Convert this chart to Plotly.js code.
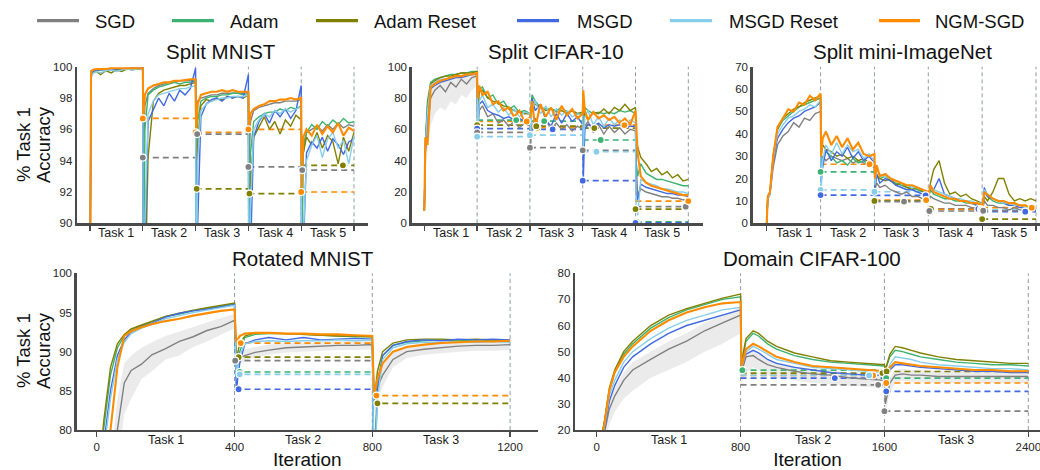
<!DOCTYPE html>
<html>
<head>
<meta charset="utf-8">
<script src="https://cdn.plot.ly/plotly-3.0.1.min.js"></script>
<style>html,body{margin:0;padding:0;background:#fff}#chart{width:1040px;height:470px}</style>
</head>
<body>
<div id="chart"></div>
<script>
// ---------------- DATA ----------------
const methods = ['SGD', 'Adam', 'Adam Reset', 'MSGD', 'MSGD Reset', 'NGM-SGD'];

// Top row: x in "task progress" units (task k spans k-1 .. k)
const taskX = [0, 0.02, 0.06, 0.12, 0.2, 0.3, 0.4, 0.5, 0.6, 0.7, 0.8, 0.9, 1.0,
  1.01, 1.04, 1.1, 1.2, 1.3, 1.4, 1.5, 1.6, 1.7, 1.8, 1.9, 2.0,
  2.01, 2.04, 2.1, 2.2, 2.3, 2.4, 2.5, 2.6, 2.7, 2.8, 2.9, 3.0,
  3.01, 3.04, 3.1, 3.2, 3.3, 3.4, 3.5, 3.6, 3.7, 3.8, 3.9, 4.0,
  4.01, 4.04, 4.1, 4.2, 4.3, 4.4, 4.5, 4.6, 4.7, 4.8, 4.9, 5.0];
const taskEdges5 = [0, 1, 2, 3, 4, 5];
const taskLabels5 = ['Task 1', 'Task 2', 'Task 3', 'Task 4', 'Task 5'];

// Split MNIST
const smnSGD = [85, 99.6, 99.75, 99.8, 99.8, 99.85, 99.85, 99.85, 99.85, 99.9, 99.9, 99.9, 99.9,
  94.2, 97.5, 98.3, 98.6, 98.8, 98.9, 99.0, 99.0, 99.1, 99.1, 99.1, 99.1,
  95.7, 97.8, 98.0, 98.1, 98.2, 98.2, 98.3, 98.3, 98.3, 98.3, 98.3, 98.4,
  93.6, 96.5, 97.2, 97.4, 97.5, 97.6, 97.7, 97.7, 97.8, 97.8, 97.8, 97.9,
  93.4, 95.0, 95.8, 96.0, 96.2, 95.9, 96.3, 96.0, 96.4, 96.1, 96.3, 96.2];
const smnAdam = [85, 99.5, 99.7, 99.75, 99.8, 99.8, 99.8, 99.85, 99.8, 99.85, 99.85, 99.85, 99.9,
  80, 96, 98.2, 98.5, 98.7, 98.8, 98.9, 99.0, 98.9, 99.0, 99.0, 99.1,
  85, 96.5, 97.8, 98.0, 98.1, 98.1, 98.2, 98.2, 98.3, 98.3, 98.2, 98.3,
  84, 94.5, 96.5, 96.8, 97.0, 97.1, 97.1, 97.3, 97.2, 97.4, 97.3, 97.5,
  86, 94.5, 95.8, 96.3, 96.0, 96.5, 96.2, 96.6, 96.3, 96.7, 96.4, 96.5];
const smnAdamReset = [85, 99.4, 99.6, 99.7, 99.5, 99.75, 99.6, 99.8, 99.7, 99.85, 99.8, 99.85, 99.85,
  80, 85, 94.2, 97.8, 98.3, 98.5, 98.6, 98.7, 98.8, 98.8, 98.9, 99.0,
  92.2, 95, 97.5, 97.9, 97.8, 98.0, 97.9, 98.1, 98.0, 98.1, 98.0, 98.2,
  91.9, 92.5, 95.5, 96.2, 96.8, 96.0, 96.5, 95.7, 96.6, 96.2, 96.9, 96.6,
  93.7, 94.5, 95.5, 95.0, 95.8, 94.8, 95.6, 95.2, 93.8, 95.5, 94.6, 95.8];
const smnMSGD = [85, 99.5, 99.7, 99.8, 99.8, 99.85, 99.8, 99.85, 99.85, 99.85, 99.9, 99.9, 99.9,
  80, 88, 96.5, 97.2, 98.0, 97.5, 98.3, 97.8, 98.5, 98.2, 98.6, 99.9,
  82, 90, 96.8, 97.6, 97.9, 98.0, 97.8, 98.1, 98.0, 98.1, 98.0, 99.5,
  80, 88, 95.5, 96.5, 97.0, 96.4, 97.2, 96.8, 97.3, 96.7, 97.2, 98.8,
  82, 88, 94.5, 95.2, 94.8, 95.5, 94.6, 95.4, 95.0, 94.4, 95.2, 95.4];
const smnMSGDReset = [85, 99.3, 99.6, 99.7, 99.6, 99.75, 99.8, 99.7, 99.8, 99.85, 99.8, 99.85, 99.85,
  80, 90, 97, 97.8, 98.2, 98.3, 98.4, 98.5, 98.6, 98.6, 98.7, 98.8,
  84, 94, 97.2, 97.6, 97.8, 97.9, 98.0, 98.0, 98.1, 98.1, 98.1, 98.2,
  82, 91, 96.0, 96.6, 97.0, 96.8, 97.2, 97.0, 97.3, 97.1, 97.3, 97.4,
  83, 89, 94.0, 95.0, 95.6, 94.2, 95.4, 95.8, 94.8, 95.3, 93.8, 95.6];
const smnNGM = [85, 99.7, 99.8, 99.85, 99.85, 99.85, 99.9, 99.9, 99.9, 99.9, 99.9, 99.9, 99.9,
  96.7, 98.2, 98.6, 98.8, 98.9, 99.0, 99.0, 99.1, 99.1, 99.15, 99.2, 99.2,
  95.8, 97.6, 98.2, 98.3, 98.4, 98.4, 98.5, 98.4, 98.5, 98.4, 98.4, 98.4,
  96.0, 97.0, 97.3, 97.5, 97.6, 97.8, 97.8, 97.9, 97.9, 98.0, 97.9, 98.0,
  92.0, 95.5, 96.0, 95.6, 96.3, 95.7, 96.2, 95.8, 96.4, 95.6, 96.1, 95.9];
const smnMinMethod = ['NGM-SGD', 'SGD', 'NGM-SGD', 'SGD', 'Adam Reset', 'NGM-SGD', 'SGD', 'Adam Reset', 'NGM-SGD', 'SGD', 'Adam Reset'];
const smnMinTask = [2, 2, 3, 3, 3, 4, 4, 4, 5, 5, 5];
const smnMinX = [1.0, 1.0, 2.0, 2.03, 2.02, 3.0, 3.0, 3.02, 4.0, 4.02, 4.79];
const smnMinY = [96.7, 94.2, 95.8, 95.7, 92.2, 96.0, 93.6, 91.9, 92.0, 93.4, 93.7];

// Split CIFAR-10
const scfSGD = [8, 45, 60, 80, 85, 88, 84, 90, 87, 92, 89, 93, 94,
  57.5, 72, 75, 68, 70, 64, 66, 62, 65, 61, 64, 62,
  48.3, 62, 67, 61, 66, 60, 64, 60, 63, 59, 62, 60,
  46.6, 62, 65, 58, 63, 57, 62, 58, 61, 57, 60, 59,
  40, 18, 22, 20, 19, 18, 17, 17, 16, 16, 15, 15];
const scfAdam = [8, 52, 78, 90, 92, 93, 94, 95, 95, 96, 96, 97, 97,
  80, 85, 87, 80, 82, 76, 78, 73, 75, 71, 72, 70,
  70, 82, 78, 74, 73, 73, 72, 74, 71, 72, 70, 71,
  62, 74, 72, 70, 71, 70, 71, 70, 72, 71, 72, 70,
  40, 30, 38, 32, 30, 28, 28, 27, 26, 25, 24, 24];
const scfAdamReset = [8, 50, 75, 89, 91, 93, 94, 94, 95, 96, 96, 96, 97,
  62.5, 84, 85, 80, 78, 77, 75, 74, 72, 71, 70, 70,
  61.5, 78, 76, 74, 72, 73, 71, 72, 70, 72, 70, 71,
  61, 70, 66, 71, 70, 73, 70, 74, 72, 76, 72, 74,
  40, 49, 42, 38, 33, 35, 31, 33, 29, 31, 27, 28];
const scfMSGD = [8, 50, 70, 86, 88, 90, 91, 92, 93, 93, 94, 95, 95,
  60, 76, 78, 72, 70, 69, 67, 68, 66, 67, 65, 66,
  62, 80, 72, 76, 66, 62, 70, 64, 70, 65, 68, 63,
  27.2, 60, 63, 62, 64, 61, 63, 62, 63, 61, 62, 62,
  20, 15, 25, 23, 22, 21, 20, 19, 19, 18, 18, 17];
const scfMSGDReset = [8, 50, 72, 88, 90, 92, 92, 93, 94, 94, 95, 95, 96,
  55, 78, 82, 74, 76, 71, 74, 69, 73, 68, 71, 70,
  56.3, 74, 78, 70, 75, 68, 73, 69, 72, 68, 70, 69,
  45.7, 68, 72, 63, 68, 62, 67, 63, 66, 62, 66, 64,
  10, 5, 28, 26, 25, 24, 22, 22, 21, 20, 20, 19];
const scfNGM = [8, 55, 50, 87, 89, 91, 92, 93, 94, 94, 95, 95, 96,
  80, 88, 82, 84, 76, 78, 72, 74, 68, 72, 65, 68,
  68, 78, 61, 76, 68, 74, 66, 75, 69, 73, 67, 70,
  85, 72, 66, 71, 67, 69, 66, 68, 64, 67, 63, 72,
  65, 45, 30, 26, 24, 23, 22, 21, 20, 19, 18, 18];
// SGD spread band during task 1 of Split CIFAR-10
const scfBandX = [0, 0.02, 0.06, 0.12, 0.2, 0.3, 0.4, 0.5, 0.6, 0.7, 0.8, 0.9, 1.0];
const scfBandLo = [8, 30, 45, 62, 70, 74, 72, 78, 76, 82, 80, 85, 88];
const scfBandHi = [8, 55, 70, 87, 90, 92, 91, 93, 93, 95, 94, 96, 96];
const scfMinMethod = ['NGM-SGD', 'Adam', 'Adam Reset', 'MSGD', 'SGD', 'MSGD Reset',
  'NGM-SGD', 'Adam', 'Adam Reset', 'MSGD', 'MSGD Reset', 'SGD',
  'Adam Reset', 'NGM-SGD', 'Adam', 'SGD', 'MSGD Reset', 'MSGD',
  'Adam Reset', 'SGD', 'NGM-SGD', 'MSGD Reset', 'Adam', 'MSGD'];
const scfMinTask = [2, 2, 2, 2, 2, 2, 3, 3, 3, 3, 3, 3, 4, 4, 4, 4, 4, 4, 5, 5, 5, 5, 5, 5];
const scfMinX = [1.94, 1.74, 1.0, 1.0, 1.0, 1.0,
  2.14, 2.27, 2.12, 2.43, 2.0, 2.0,
  3.22, 3.79, 3.34, 3.0, 3.26, 3.0,
  4.0, 4.95, 5.0, 4.0, 4.02, 4.0];
const scfMinY = [65.0, 65.9, 62.7, 60.5, 58.0, 55.3,
  61.0, 65.3, 62.0, 60.0, 56.3, 48.3,
  60.8, 62.7, 53.2, 46.6, 45.7, 27.2,
  9.1, 10.6, 14.2, 0.6, 1.0, 0.3];

// Split mini-ImageNet
const smiSGD = [0, 11, 13, 25, 35, 39, 41, 45, 43, 47, 46, 49, 50,
  28, 30, 28, 30, 29, 28, 29, 27, 28, 27, 26, 25,
  15, 18, 16, 17, 15, 14, 13, 14, 12, 12, 11, 11,
  10, 12, 11, 10, 9, 9, 8, 8, 8, 7, 7, 7,
  6, 10, 8, 8, 7, 7, 6, 7, 6, 6, 6, 6];
const smiAdam = [0, 12, 14, 30, 42, 46, 48, 50, 52, 53, 54, 55, 56,
  23, 28, 32, 30, 27, 28, 26, 29, 27, 28, 26, 27,
  18, 22, 20, 21, 19, 18, 17, 16, 16, 15, 14, 14,
  12, 15, 13, 12, 11, 11, 10, 10, 9, 9, 8, 8,
  7, 14, 12, 10, 9, 9, 8, 8, 8, 7, 7, 7];
const smiAdamReset = [0, 12, 14, 30, 42, 47, 49, 51, 52, 54, 55, 56, 57,
  30, 35, 33, 32, 30, 31, 29, 30, 28, 29, 27, 26,
  16, 21, 20, 19, 20, 17, 18, 16, 15, 16, 14, 13,
  12, 18, 24, 28, 18, 13, 14, 12, 13, 11, 10, 9,
  6, 12, 10, 14, 20, 20, 13, 10, 11, 10, 11, 10];
const smiMSGD = [0, 11, 13, 28, 38, 42, 45, 47, 48, 50, 51, 52, 54,
  18, 25, 33, 28, 32, 30, 34, 29, 32, 28, 30, 27,
  16, 22, 18, 20, 19, 17, 16, 15, 15, 14, 13, 13,
  12, 16, 15, 20, 13, 12, 11, 10, 10, 9, 8, 8,
  7, 16, 12, 11, 10, 9, 8, 8, 7, 7, 6, 6];
const smiMSGDReset = [0, 11, 13, 29, 40, 44, 47, 48, 50, 51, 53, 52, 55,
  15, 28, 35, 31, 36, 31, 35, 32, 33, 29, 31, 28,
  17, 24, 22, 21, 20, 19, 18, 17, 16, 16, 15, 14,
  12, 17, 15, 14, 13, 12, 11, 11, 10, 10, 9, 9,
  7, 15, 13, 11, 10, 9, 9, 8, 8, 7, 7, 7];
const smiNGM = [0, 12, 14, 30, 43, 47, 51, 50, 54, 53, 57, 55, 58,
  30, 38, 41, 35, 39, 34, 38, 33, 36, 31, 30, 31,
  20, 26, 21, 22, 20, 19, 18, 17, 17, 16, 15, 14,
  13, 17, 14, 13, 12, 11, 11, 10, 10, 9, 9, 8,
  8, 14, 13, 11, 10, 10, 9, 9, 8, 8, 7, 7];
const smiMinMethod = ['NGM-SGD', 'Adam', 'MSGD Reset', 'MSGD',
  'MSGD Reset', 'MSGD', 'NGM-SGD', 'Adam Reset', 'SGD',
  'Adam Reset', 'MSGD', 'NGM-SGD', 'SGD',
  'Adam Reset', 'MSGD', 'NGM-SGD', 'MSGD Reset', 'SGD'];
const smiMinTask = [2, 2, 2, 2, 3, 3, 3, 3, 3, 4, 4, 4, 4, 5, 5, 5, 5, 5];
const smiMinX = [1.91, 1.0, 1.0, 1.0, 2.0, 2.95, 2.96, 2.0, 2.55, 3.05, 3.93, 3.98, 3.02, 4.0, 4.8, 4.92, 4.0, 4.02];
const smiMinY = [26.4, 23.0, 14.9, 12.6, 14.1, 12.5, 10.4, 10.0, 9.7, 6.4, 6.4, 6.2, 5.5, 1.9, 5.2, 7.0, 6.0, 5.6];

// Rotated MNIST (x = iteration)
const rotX = [0, 20, 40, 60, 80, 100, 130, 160, 200, 240, 280, 320, 360, 400,
  405, 415, 430, 460, 500, 550, 600, 650, 700, 750, 800,
  805, 815, 830, 860, 900, 950, 1000, 1050, 1100, 1150, 1200];
const rotEdges = [0, 400, 800, 1200];
const rotSGD = [70, 70, 72, 80, 86, 87.6, 88.4, 89.6, 90.4, 91.3, 91.9, 92.7, 93.2, 94,
  88.8, 89.2, 89.5, 89.9, 90.2, 90.5, 90.6, 90.7, 90.8, 90.8, 90.9,
  84.5, 85.5, 87, 89, 90, 90.3, 90.5, 90.7, 90.8, 90.8, 90.9];
const rotSGDLo = [70, 70, 70, 75, 82, 84, 86.5, 87.5, 89, 89.5, 90.6, 91.3, 92.1, 93,
  87.5, 88.3, 88.8, 89.3, 89.6, 89.9, 90, 90.1, 90.2, 90.2, 90.3,
  82, 84, 85.5, 88, 89.2, 89.6, 89.8, 90, 90.1, 90.1, 90.2];
const rotSGDHi = [70, 72, 76, 84, 88.5, 89.5, 90.5, 91.2, 92, 92.6, 93.2, 93.8, 94.3, 94.8,
  90, 90.2, 90.3, 90.6, 90.9, 91.1, 91.2, 91.3, 91.4, 91.4, 91.5,
  86.5, 87.5, 88.5, 90, 90.8, 91, 91.2, 91.3, 91.4, 91.4, 91.5];
const rotAdam = [70, 80, 87, 90.5, 92, 92.8, 93.3, 93.8, 94.5, 94.8, 95.2, 95.5, 95.8, 96.1,
  87.3, 90, 91.8, 92.2, 92.3, 92.3, 92.2, 92.1, 92, 91.9, 91.9,
  75, 86, 89.5, 90.8, 91.2, 91.4, 91.5, 91.4, 91.5, 91.4, 91.3];
const rotAdamReset = [70, 81, 88, 91, 92.2, 92.9, 93.4, 93.9, 94.5, 94.9, 95.3, 95.6, 95.9, 96.2,
  89, 91, 92, 92.4, 92.4, 92.3, 92.2, 92.1, 92, 92, 91.9,
  83.4, 87.5, 90, 91.1, 91.5, 91.6, 91.6, 91.5, 91.6, 91.5, 91.4];
const rotMSGD = [70, 78, 85, 89.5, 91.5, 92.5, 93.2, 93.6, 94.4, 94.9, 95.2, 95.4, 95.7, 96,
  85, 88.5, 91, 91.5, 91.8, 91.5, 91.8, 91.5, 91.6, 91.7, 91.6,
  72, 85, 89.5, 90.8, 91.3, 91.5, 91.4, 91.6, 91.5, 91.6, 91.5];
const rotMSGDReset = [70, 77, 84, 89, 91.2, 92.3, 93, 93.5, 94.2, 94.6, 95, 95.3, 95.6, 95.9,
  87, 89.5, 91, 91.3, 91.4, 91.3, 91.4, 91.4, 91.5, 91.4, 91.5,
  73, 84, 89, 90.5, 91, 91.2, 91.2, 91.3, 91.2, 91.3, 91.2];
const rotNGM = [70, 72, 80, 88, 92, 92.6, 93.1, 93.5, 93.9, 94.2, 94.6, 94.9, 95.2, 95.4,
  91.2, 92, 92.3, 92.4, 92.4, 92.3, 92.3, 92.2, 92.2, 92.1, 92,
  84.4, 86.5, 88.5, 90, 90.6, 90.9, 91.1, 91.2, 91.3, 91.3, 91.4];
const rotMinMethod = ['NGM-SGD', 'Adam Reset', 'SGD', 'Adam', 'MSGD Reset', 'MSGD', 'NGM-SGD', 'Adam Reset'];
const rotMinTask = [2, 2, 2, 2, 2, 2, 3, 3];
const rotMinX = [418, 412, 402, 415, 415, 412, 812, 815];
const rotMinY = [91.1, 89.3, 88.85, 87.4, 87.1, 85.2, 84.4, 83.4];

// Domain CIFAR-100 (x = iteration)
const domX = [0, 40, 70, 100, 150, 200, 300, 400, 500, 600, 700, 800,
  805, 830, 870, 900, 950, 1000, 1100, 1200, 1300, 1400, 1500, 1600,
  1605, 1630, 1660, 1700, 1750, 1800, 1900, 2000, 2100, 2200, 2300, 2400];
const domEdges = [0, 800, 1600, 2400];
const domSGD = [10, 18, 28, 33, 39, 43, 47, 51, 54, 58, 61, 64,
  42, 48, 48.5, 47, 45, 44, 42.5, 41.5, 41, 40, 39.5, 39,
  30, 38, 41, 41.5, 41, 41, 40.5, 40.5, 40.5, 40.5, 40.5, 40.5];
const domSGDLo = [10, 14, 22, 27, 32, 35, 40, 43, 46, 50, 53, 57,
  38, 42, 44, 43, 41, 40, 39, 38, 37.5, 37, 36.5, 36,
  26, 34, 38, 39, 38.5, 38.5, 38, 38, 38, 38, 38, 38];
const domSGDHi = [10, 21, 31, 36, 42, 46, 50, 54, 57, 61, 64, 67,
  44, 50, 50.5, 49, 47, 46, 44.5, 43.5, 43, 42, 41.5, 41,
  33, 40, 43, 43.5, 43, 43, 42.5, 42.5, 42.5, 42.5, 42.5, 42.5];
const domAdam = [10, 22, 35, 42, 49, 53, 59, 63, 66, 68, 70, 71,
  44, 54, 57, 56, 53, 51, 48.5, 47, 46, 45.5, 45, 44.5,
  43, 48, 50.5, 50, 49, 48, 47, 46, 45.5, 45, 45, 44.5];
const domAdamReset = [10, 22, 36, 43, 50, 54, 60, 64, 66.5, 68.5, 70.5, 72,
  46, 55, 58, 57, 54, 52, 49.5, 48, 46.5, 46, 45.5, 45,
  43, 49, 52, 51.5, 50.5, 49.5, 48, 47, 46.5, 46, 45.5, 45.5];
const domMSGD = [10, 19, 31, 37, 44, 48, 53, 57, 60, 62, 64, 66,
  43, 49, 50.5, 49.5, 47, 45.5, 44, 43, 42, 41.5, 41, 41,
  38, 43, 45, 45, 44.5, 44, 43.5, 43, 42.5, 42.5, 42, 42];
const domMSGDReset = [10, 20, 33, 39, 46, 50, 55, 59, 62, 64, 66, 67,
  43, 50, 52, 51, 49, 47, 45.5, 44, 43.5, 43, 42.5, 42,
  40, 45, 48, 47.5, 47, 46, 45, 44.5, 44, 43.5, 43.5, 43];
const domNGM = [10, 21, 35, 42, 48, 52, 58, 62, 65, 67, 68.5, 69,
  44, 51, 53, 52, 50, 48, 46, 44.5, 44, 43.5, 43, 42.5,
  38, 44, 46, 45.5, 45, 44.5, 44, 43.5, 43, 43, 42.5, 42.5];
const domMinMethod = ['Adam', 'Adam Reset', 'NGM-SGD', 'MSGD Reset', 'MSGD', 'SGD',
  'Adam Reset', 'Adam', 'NGM-SGD', 'MSGD', 'SGD'];
const domMinTask = [2, 2, 2, 2, 2, 2, 3, 3, 3, 3, 3];
const domMinX = [810, 1589, 1537, 1515, 1324, 1565, 1612, 1610, 1610, 1610, 1600];
const domMinY = [42.9, 41.8, 40.9, 40.9, 39.9, 37.3, 42.4, 39.9, 38.0, 34.8, 27.2];

// ---------------- STYLE ----------------
const COL = {'SGD': '#808080', 'Adam': '#3cb371', 'Adam Reset': '#808000',
  'MSGD': '#4169e1', 'MSGD Reset': '#87ceeb', 'NGM-SGD': '#ff8c00'};
const FONT = 'Liberation Sans, Arial, Helvetica, sans-serif';
const W = 1040, H = 470;
const px = v => v / W, py = v => 1 - v / H;
const traces = [];

function band(n, x, lo, hi, fill) {
  const xa = 'x' + (n === 1 ? '' : n), ya = 'y' + (n === 1 ? '' : n);
  traces.push({x: x, y: lo, xaxis: xa, yaxis: ya, mode: 'lines', line: {width: 0, color: 'rgba(0,0,0,0)'},
    showlegend: false, hoverinfo: 'skip'});
  traces.push({x: x, y: hi, xaxis: xa, yaxis: ya, mode: 'lines', line: {width: 0, color: 'rgba(0,0,0,0)'},
    fill: 'tonexty', fillcolor: fill, showlegend: false, hoverinfo: 'skip'});
}

function panel(n, x, series, minM, minT, minX, minY, edges) {
  const xa = 'x' + (n === 1 ? '' : n), ya = 'y' + (n === 1 ? '' : n);
  minM.forEach((m, i) => {
    traces.push({x: [edges[minT[i] - 1], edges[minT[i]]], y: [minY[i], minY[i]], xaxis: xa, yaxis: ya,
      mode: 'lines', line: {color: COL[m], width: 1.7, dash: '6px,4px'}, showlegend: false, hoverinfo: 'skip'});
  });
  methods.forEach((m, i) => {
    traces.push({x: x, y: series[i], xaxis: xa, yaxis: ya, name: m, legendgroup: m, showlegend: false,
      mode: 'lines', line: {color: COL[m], width: m === 'NGM-SGD' ? 2.1 : 1.4}});
  });
  traces.push({x: minX, y: minY, xaxis: xa, yaxis: ya, mode: 'markers', showlegend: false, hoverinfo: 'skip',
    marker: {size: 7, color: minM.map(m => COL[m]), line: {color: '#ffffff', width: 1.2}}});
}

const greyBand = 'rgba(128,128,128,0.16)';
band(2, scfBandX, scfBandLo, scfBandHi, greyBand);
band(4, rotX, rotSGDLo, rotSGDHi, greyBand);
band(5, domX, domSGDLo, domSGDHi, greyBand);

panel(1, taskX, [smnSGD, smnAdam, smnAdamReset, smnMSGD, smnMSGDReset, smnNGM], smnMinMethod, smnMinTask, smnMinX, smnMinY, taskEdges5);
panel(2, taskX, [scfSGD, scfAdam, scfAdamReset, scfMSGD, scfMSGDReset, scfNGM], scfMinMethod, scfMinTask, scfMinX, scfMinY, taskEdges5);
panel(3, taskX, [smiSGD, smiAdam, smiAdamReset, smiMSGD, smiMSGDReset, smiNGM], smiMinMethod, smiMinTask, smiMinX, smiMinY, taskEdges5);
panel(4, rotX, [rotSGD, rotAdam, rotAdamReset, rotMSGD, rotMSGDReset, rotNGM], rotMinMethod, rotMinTask, rotMinX, rotMinY, rotEdges);
panel(5, domX, [domSGD, domAdam, domAdamReset, domMSGD, domMSGDReset, domNGM], domMinMethod, domMinTask, domMinX, domMinY, domEdges);

// ---------------- LAYOUT ----------------
const AX = '#4a4a4a';
const tickfont = {family: FONT, size: 11.5, color: '#262626'};
function xax(dom, range, tickvals, labels) {
  return {domain: dom, range: range, showline: true, linecolor: AX, linewidth: 2.4, showgrid: false, zeroline: false,
    ticks: 'outside', ticklen: 5, tickwidth: 1.3, tickcolor: AX, tickvals: tickvals,
    showticklabels: labels, tickfont: tickfont, ticklabeloverflow: 'allow', fixedrange: true};
}
function yax(dom, range, tickvals, anchor) {
  return {domain: dom, range: range, showline: true, linecolor: AX, linewidth: 2.4, showgrid: false, zeroline: false,
    ticks: '', tickvals: tickvals, tickfont: tickfont, anchor: anchor, fixedrange: true};
}
const topDom = [py(223.3), py(66.7)], botDom = [py(430), py(273.3)];
const xTitle = {text: 'Iteration', font: {family: FONT, size: 19, color: '#111'}, standoff: 2};

const layout = {
  width: W, height: H, margin: {l: 0, r: 0, t: 0, b: 0}, paper_bgcolor: '#fff', plot_bgcolor: 'rgba(0,0,0,0)',
  showlegend: false, font: {family: FONT, color: '#222'},
  xaxis: Object.assign(xax([px(77), px(368)], [-0.246, 5.265], taskEdges5, false), {anchor: 'y'}),
  yaxis: yax(topDom, [90, 100], [90, 92, 94, 96, 98, 100], 'x'),
  xaxis2: Object.assign(xax([px(411.7), px(703)], [-0.239, 5.278], taskEdges5, false), {anchor: 'y2'}),
  yaxis2: yax(topDom, [0, 100], [0, 20, 40, 60, 80, 100], 'x2'),
  xaxis3: Object.assign(xax([px(752.7), 1], [-0.26, 5.074], taskEdges5, false), {anchor: 'y3'}),
  yaxis3: yax(topDom, [0, 70], [0, 10, 20, 30, 40, 50, 60, 70], 'x3'),
  xaxis4: Object.assign(xax([px(76.7), px(538)], [-58.1, 1281], rotEdges, true), {anchor: 'y4', title: xTitle}),
  yaxis4: yax(botDom, [80, 100], [80, 85, 90, 95, 100], 'x4'),
  xaxis5: Object.assign(xax([px(575), 1], [-120.7, 2465], domEdges, true), {anchor: 'y5', title: xTitle}),
  yaxis5: yax(botDom, [20, 80], [20, 30, 40, 50, 60, 70, 80], 'x5'),
  shapes: [], annotations: []
};

// y-axis titles (two rotated lines, tight line spacing as in the reference)
const yTitleFont = {family: FONT, size: 18.5, color: '#111'};
[145, 351].forEach(yc => {
  layout.annotations.push({xref: 'paper', yref: 'paper', x: px(23), y: py(yc), text: '% Task 1', textangle: -90,
    showarrow: false, font: yTitleFont, xanchor: 'center', yanchor: 'middle'});
  layout.annotations.push({xref: 'paper', yref: 'paper', x: px(43), y: py(yc), text: 'Accuracy', textangle: -90,
    showarrow: false, font: yTitleFont, xanchor: 'center', yanchor: 'middle'});
});

// task boundary lines
const vline = (xr, x) => ({type: 'line', xref: xr, yref: xr.replace('x', 'y') + ' domain', x0: x, x1: x, y0: 0, y1: 1,
  line: {color: '#8e9cb2', width: 1, dash: '4px,3px'}, layer: 'below'});
['x', 'x2', 'x3'].forEach(xr => taskEdges5.slice(1).forEach(e => layout.shapes.push(vline(xr, e))));
rotEdges.slice(1).forEach(e => layout.shapes.push(vline('x4', e)));
domEdges.slice(1).forEach(e => layout.shapes.push(vline('x5', e)));

// task labels
const taskFont = {family: FONT, size: 12.5, color: '#1a1a1a'};
['x', 'x2', 'x3'].forEach(xr => taskLabels5.forEach((t, i) => layout.annotations.push({
  xref: xr, yref: 'paper', x: (taskEdges5[i] + taskEdges5[i + 1]) / 2, y: py(232.5), text: t, showarrow: false,
  font: taskFont, yanchor: 'middle'})));
[['x4', rotEdges], ['x5', domEdges]].forEach(([xr, ed]) => ['Task 1', 'Task 2', 'Task 3'].forEach((t, i) =>
  layout.annotations.push({xref: xr, yref: 'paper', x: (ed[i] + ed[i + 1]) / 2, y: py(440), text: t,
    showarrow: false, font: taskFont, yanchor: 'middle'})));

// subplot titles
const titleFont = {family: FONT, size: 20.5, color: '#111'};
[['Split MNIST', 221, 51.7], ['Split CIFAR-10', 556, 51.7], ['Split mini-ImageNet', 902, 51.7],
 ['Rotated MNIST', 303, 258], ['Domain CIFAR-100', 812, 258]].forEach(([t, x, y]) =>
  layout.annotations.push({xref: 'paper', yref: 'paper', x: px(x), y: py(y), text: t, showarrow: false,
    font: titleFont, xanchor: 'center', yanchor: 'middle'}));

// legend (drawn)
const legLine = [[37, 79], [172, 214], [316, 358], [517, 559], [670, 712], [879, 920]];
const legText = [93, 228, 372, 575, 727, 933];
methods.forEach((m, i) => {
  layout.shapes.push({type: 'line', xref: 'paper', yref: 'paper', x0: px(legLine[i][0]), x1: px(legLine[i][1]),
    y0: py(20.7), y1: py(20.7), line: {color: COL[m], width: 3.2}});
  layout.annotations.push({xref: 'paper', yref: 'paper', x: px(legText[i]), y: py(21), text: m, showarrow: false,
    xanchor: 'left', yanchor: 'middle', font: {family: FONT, size: 18.5, color: '#111'}});
});

Plotly.newPlot('chart', traces, layout, {displayModeBar: false, staticPlot: true});
</script>
</body>
</html>
